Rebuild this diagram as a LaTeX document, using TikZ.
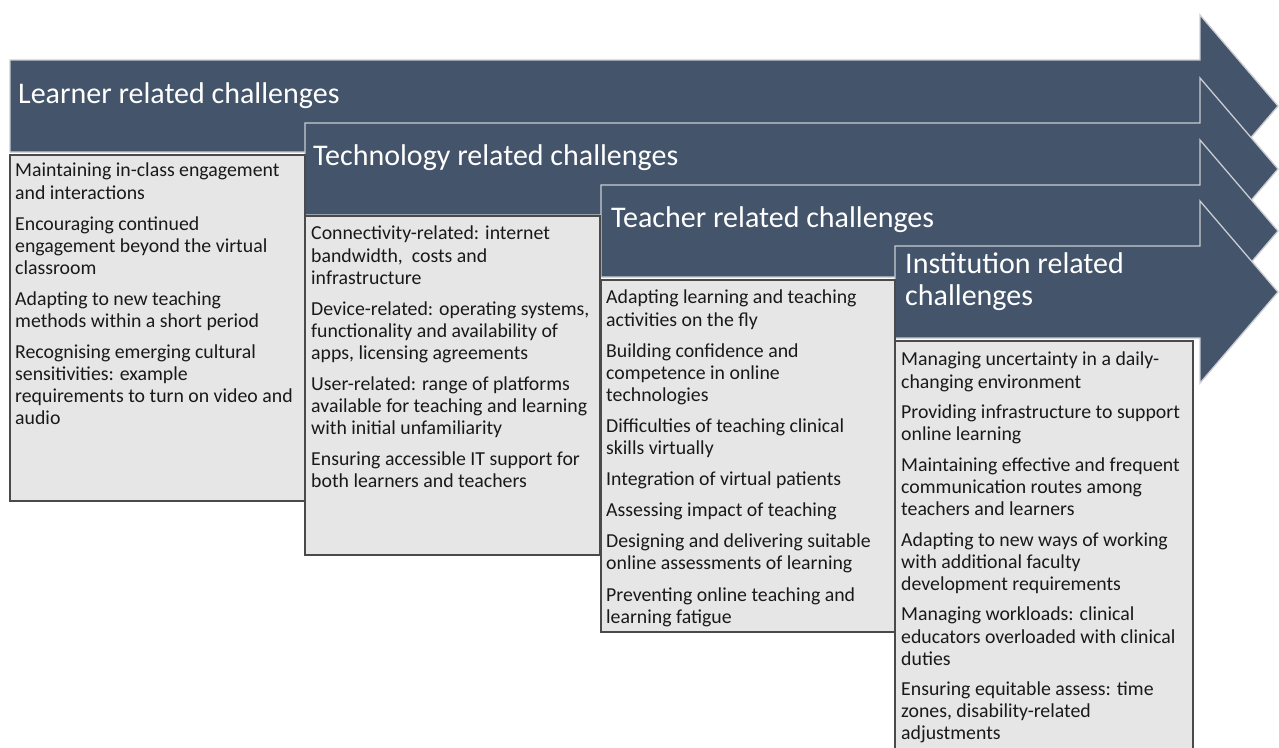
\documentclass[tikz,border=0pt]{standalone}
\usepackage{fontspec}
\setmainfont{Carlito}
\definecolor{arrowblue}{HTML}{44546A}
\definecolor{arrowline}{HTML}{C9CDD3}
\definecolor{boxfill}{HTML}{E7E6E6}
\definecolor{boxline}{HTML}{4A4A4A}
\begin{document}
\begin{tikzpicture}[x=1pt,y=-1pt,
  arrowshape/.style={fill=arrowblue,draw=arrowline,line width=1.3pt},
  boxshape/.style={fill=boxfill,draw=boxline,line width=1.2pt},
  heading/.style={text=white,font=\fontsize{30}{32}\selectfont,inner sep=0pt,align=left},
  itemtext/.style={text=black!90,font=\fontsize{19.8}{22.1}\selectfont,inner sep=0pt,align=left,anchor=north west}]
\useasboundingbox (0,0) rectangle (1279,747);
\begin{scope}
\clip (0,0) rectangle (1279,747);
% arrows
\foreach \xl/\t in {10/60, 305/123, 601/185, 895/246}{
  \draw[arrowshape] (\xl,\t) -- (1200,\t) -- (1200,\t-45) -- (1278,\t+46)
     -- (1200,\t+137) -- (1200,\t+92) -- (\xl,\t+92) -- cycle;
}
% boxes
\draw[boxshape] (10,155) rectangle (305,501);
\draw[boxshape] (305,216) rectangle (600,555);
\draw[boxshape] (601,280) rectangle (895,632);
\draw[boxshape] (895,341) rectangle (1193,760);
\end{scope}
% headings
\node[heading,anchor=base west] (hlearn) at (18,103) {Learner related challenges};
\node[heading,anchor=base west] (htech) at (313,165) {Technology related challenges};
\node[heading,anchor=base west] (hteach) at (611,227) {Teacher related challenges};
\node[heading,anchor=base west] (hinst) at (905,273) {Institution related};
\node[heading,anchor=base west] (hinst2) at (905,305) {challenges};
% texts
\node[itemtext] (tlearn) at (15,163) {Maintaining in-class engagement\\and interactions\\[9pt]
Encouraging continued\\engagement beyond the virtual\\classroom\\[9pt]
Adapting to new teaching\\methods within a short period\\[9pt]
Recognising emerging cultural\\sensitivities: example\\requirements to turn on video and\\audio};
\node[itemtext] (ttech) at (311,226) {Connectivity-related: internet\\bandwidth,\ \ costs and\\infrastructure\\[9pt]
Device-related: operating systems,\\functionality and availability of\\apps, licensing agreements\\[9pt]
User-related: range of platforms\\available for teaching and learning\\with initial unfamiliarity\\[9pt]
Ensuring accessible IT support for\\both learners and teachers};
\node[itemtext] (tteach) at (606,290) {Adapting learning and teaching\\activities on the fly\\[9pt]
Building confidence and\\competence in online\\technologies\\[9pt]
Difficulties of teaching clinical\\skills virtually\\[9pt]
Integration of virtual patients\\[9pt]
Assessing impact of teaching\\[9pt]
Designing and delivering suitable\\online assessments of learning\\[9pt]
Preventing online teaching and\\learning fatigue};
\node[itemtext] (tinst) at (901,352) {Managing uncertainty in a daily-\\changing environment\\[8.5pt]
Providing infrastructure to support\\online learning\\[8.5pt]
Maintaining effective and frequent\\communication routes among\\teachers and learners\\[8.5pt]
Adapting to new ways of working\\with additional faculty\\development requirements\\[8.5pt]
Managing workloads: clinical\\educators overloaded with clinical\\duties\\[8.5pt]
Ensuring equitable assess: time\\zones, disability-related\\adjustments};
\end{tikzpicture}
\end{document}
